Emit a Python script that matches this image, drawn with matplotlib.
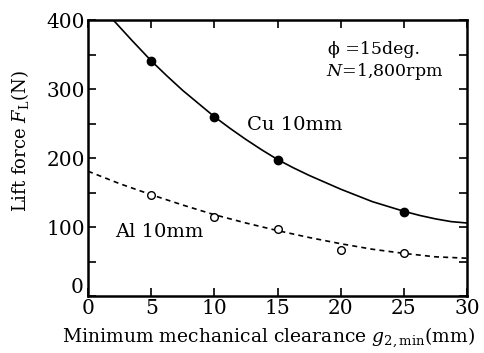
import matplotlib
matplotlib.use("Agg")
import matplotlib.pyplot as plt
from matplotlib.ticker import MultipleLocator

plt.rcParams["font.family"] = ["DejaVu Serif"]
plt.rcParams["mathtext.fontset"] = "dejavuserif"

# measured points
gap_pts = [5, 10, 15, 25]
cu_pts = [341, 260, 198, 122]
al_gap_pts = [5, 10, 15, 20, 25]
al_pts = [146, 115, 97, 67, 63]

# fitted curves
cu_x = [2, 3.5, 5, 6.25, 7.5, 8.75, 10, 11.25, 12.5, 13.75, 15, 16.25, 17.5,
        18.75, 20, 21.25, 22.5, 23.75, 25, 26.25, 27.5, 28.75, 30]
cu_y = [400, 370, 341, 319, 298, 279, 260, 243, 227, 212, 198, 186, 175,
        165, 155, 146, 137, 130, 123, 117, 112, 108, 106]
al_x = [0, 2.5, 5, 7.5, 10, 12.5, 15, 17.5, 20, 22.5, 25, 27.5, 30]
al_y = [181, 163, 147, 132, 118, 106, 95, 85, 76, 68, 62, 57, 55]

y_ticks = [0, 100, 200, 300, 400]
y_ticklabels = ["", "100", "200", "300", "400"]  # "0" placed by hand below

fig = plt.figure(figsize=(4.84, 3.53), dpi=100)
ax = fig.add_axes([0.182, 0.161, 0.783, 0.782])

ax.plot(cu_x, cu_y, "k-", lw=1.2)
ax.plot(al_x, al_y, "k--", lw=1.2, dashes=(3, 2.5))
ax.plot(gap_pts, cu_pts, "ko", ms=6)
ax.plot(al_gap_pts, al_pts, "o", mfc="white", mec="k", ms=5.5, mew=1.0)

ax.xaxis.set_major_locator(MultipleLocator(5))
ax.set_yticks(y_ticks, y_ticklabels)
ax.yaxis.set_minor_locator(MultipleLocator(50))
ax.set_xlim(0, 30)
ax.set_ylim(0, 400)
ax.tick_params(which="both", direction="in", top=True, right=True,
               labelsize=14.5, width=1.2, pad=2)
ax.tick_params(which="major", length=6)
ax.tick_params(which="minor", length=6)
for s in ax.spines.values():
    s.set_linewidth(1.8)

# y "0" sits a little above the x axis, as in the original
ax.annotate("0", xy=(0, 0), xytext=(-3, 6), textcoords="offset points",
            ha="right", va="center", fontsize=14.5, annotation_clip=False)

ax.set_xlabel(r"Minimum mechanical clearance $g_{2,\mathrm{min}}$(mm)", fontsize=13.5)
ax.xaxis.set_label_coords(0.475, -0.105)
ax.set_ylabel(r"Lift force $F_\mathrm{L}$(N)", fontsize=13)
ax.yaxis.set_label_coords(-0.15, 0.56)

ax.text(19.0, 357, "\u03d5 =15deg.", fontsize=12.5, va="center")
ax.text(18.8, 326, r"$N$=1,800rpm", fontsize=12.5, va="center")
ax.text(12.6, 248, "Cu 10mm", fontsize=14, va="center")
ax.text(2.1, 93, "Al 10mm", fontsize=14, va="center")

fig.savefig("out.png", dpi=100)
